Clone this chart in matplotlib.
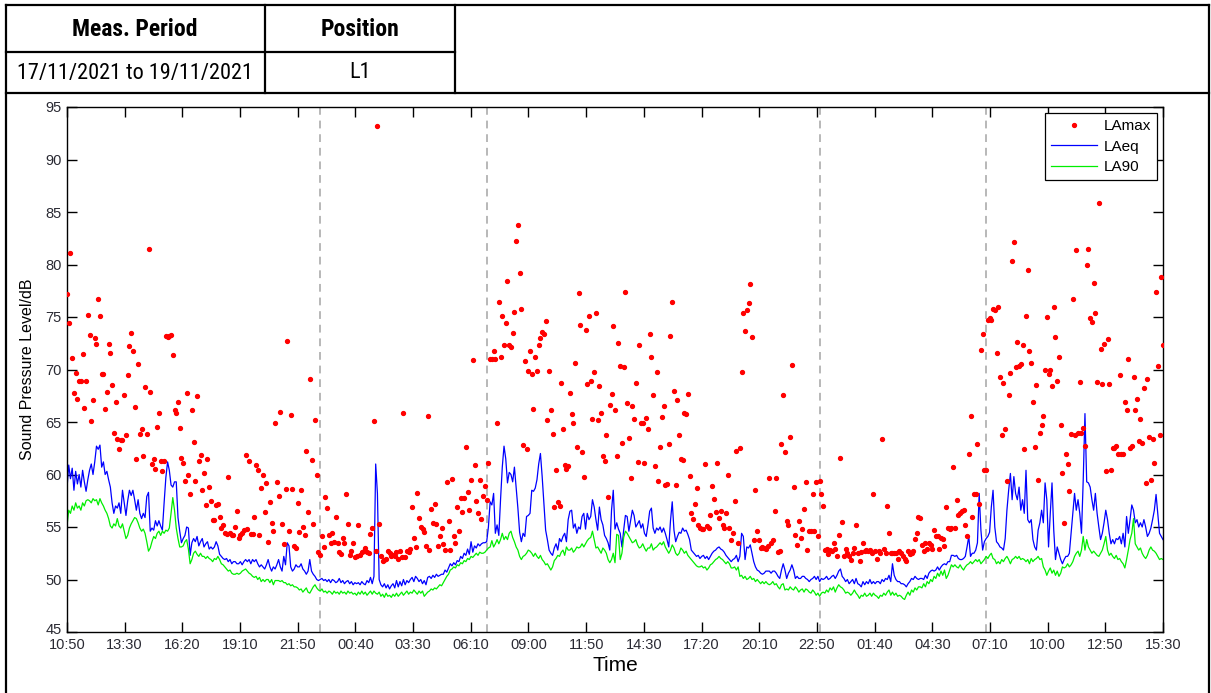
import numpy as np
import pandas as pd
import matplotlib
matplotlib.use('Agg')
import matplotlib.pyplot as plt
import matplotlib.transforms as mtransforms
from matplotlib.lines import Line2D

# 5-minute values, one row per hour starting 17/11/2021 10:50
start = pd.Timestamp('2021-11-17 10:50')
step_min = 5

lamax_rows = [
    [77.2, 74.4, 81.1, 71.1, 67.8, 69.7, 67.2, 68.9, 68.9, 71.5, 66.3, 68.9],
    [75.2, 73.3, 65.1, 67.1, 73.0, 72.4, 76.7, 75.1, 69.6, 69.6, 66.2, 67.9],
    [72.4, 71.6, 68.5, 64.0, 66.9, 63.4, 62.4, 63.3, 63.3, 67.6, 63.8, 69.5],
    [72.2, 73.5, 71.8, 66.4, 61.5, 70.5, 63.9, 64.3, 61.8, 68.3, 63.9, 81.5],
    [67.9, 61.0, 61.5, 60.5, 64.5, 65.9, 61.3, 60.3, 61.3, 73.2, 73.1, 73.2],
    [73.3, 71.4, 66.1, 65.9, 66.9, 64.4, 61.6, 61.1, 59.4, 67.8, 60.0, 58.1],
    [66.1, 63.1, 59.4, 67.5, 61.3, 61.9, 58.5, 60.1, 57.1, 61.5, 58.8, 57.5],
    [55.7, 55.7, 57.1, 57.2, 56.0, 54.9, 55.2, 54.4, 54.3, 59.8, 54.4, 54.2],
    [54.2, 55.0, 56.5, 54.0, 54.2, 54.4, 54.7, 61.9, 54.8, 61.3, 54.3, 54.3],
    [56.0, 60.9, 60.4, 54.2, 58.7, 60.0, 56.4, 59.2, 53.6, 57.4, 55.4, 54.6],
    [64.9, 59.3, 58.0, 66.0, 55.3, 53.4, 58.6, 72.7, 54.6, 65.7, 58.6, 53.2],
    [53.0, 57.3, 54.5, 58.5, 55.0, 54.2, 62.2, 56.4, 69.1, 61.4, 55.3, 65.2],
    [60.0, 52.6, 52.3, 54.1, 53.1, 57.9, 56.8, 54.2, 53.5, 54.4, 53.6, 56.0],
    [53.5, 52.6, 52.4, 54.0, 53.5, 58.1, 55.3, 52.3, 52.7, 53.5, 52.1, 52.2],
    [55.2, 52.3, 52.6, 52.7, 53.0, 52.6, 52.5, 54.3, 54.9, 65.1, 52.7, 93.2],
    [55.3, 52.2, 51.8, 51.9, 52.0, 52.7, 52.5, 52.2, 52.3, 52.2, 52.6, 52.0],
    [52.7, 52.1, 65.9, 52.1, 52.7, 52.6, 52.9, 56.9, 54.0, 53.1, 58.2, 55.9],
    [55.0, 54.8, 54.5, 53.2, 65.6, 52.8, 56.7, 55.4, 57.2, 55.3, 53.2, 54.1],
    [54.9, 53.4, 52.8, 59.3, 55.6, 52.8, 59.6, 54.1, 53.5, 56.9, 54.6, 57.8],
    [56.4, 57.8, 62.6, 58.3, 56.6, 59.5, 70.9, 60.9, 57.5, 56.3, 59.5, 55.8],
    [58.0, 58.9, 57.6, 61.1, 71.0, 71.0, 71.8, 71.0, 64.9, 76.4, 71.2, 75.1],
    [72.3, 74.4, 78.4, 72.3, 72.1, 73.5, 75.5, 82.2, 83.8, 79.2, 75.8, 62.8],
    [70.8, 62.4, 69.9, 71.8, 69.6, 66.2, 71.2, 69.9, 72.3, 73.0, 73.6, 73.4],
    [74.6, 65.2, 69.9, 66.1, 63.9, 56.9, 60.4, 57.4, 57.0, 68.7, 64.3, 60.9],
    [60.5, 60.8, 67.8, 65.8, 64.9, 70.6, 62.6, 77.3, 74.2, 62.1, 59.8, 73.8],
    [68.6, 75.1, 68.9, 65.3, 69.8, 75.4, 65.2, 68.4, 65.9, 61.8, 61.3, 63.8],
    [57.9, 66.6, 67.7, 74.1, 66.1, 61.8, 72.5, 70.3, 63.0, 70.2, 77.4, 66.8],
    [63.5, 59.7, 66.5, 65.3, 68.7, 61.2, 72.3, 64.9, 64.9, 61.1, 65.4, 64.3],
    [73.4, 71.2, 67.6, 60.8, 69.8, 59.4, 62.6, 65.5, 66.5, 59.0, 59.1, 62.9],
    [73.2, 76.4, 68.0, 59.0, 67.1, 63.8, 61.5, 61.4, 65.9, 65.8, 67.7, 59.9],
    [56.3, 55.8, 57.2, 58.7, 55.2, 54.9, 54.8, 54.8, 61.0, 55.1, 54.9, 56.1],
    [58.9, 57.7, 56.4, 61.1, 55.9, 56.5, 55.2, 54.9, 56.3, 60.0, 54.9, 53.8],
    [54.4, 57.5, 62.2, 53.5, 62.5, 69.8, 75.4, 73.7, 75.7, 76.3, 78.1, 73.1],
    [53.8, 58.5, 54.6, 53.8, 53.0, 53.1, 53.0, 52.9, 53.2, 59.7, 53.5, 53.8],
    [56.5, 59.7, 52.6, 52.7, 62.9, 67.6, 62.1, 55.6, 55.2, 63.6, 70.4, 58.8],
    [54.2, 53.3, 55.6, 54.0, 54.8, 56.7, 59.3, 52.8, 54.6, 54.6, 58.1, 54.6],
    [59.3, 54.1, 59.4, 58.1, 57.0, 52.8, 52.9, 52.4, 52.8, 52.7, 53.5, 52.9],
    [52.2, 54.2, 61.6, 55.5, 52.2, 52.9, 52.5, 52.2, 51.9, 52.5, 53.0, 55.2],
    [52.5, 51.8, 52.6, 53.5, 52.7, 52.8, 52.7, 52.8, 52.5, 58.1, 52.7, 52.0],
    [52.7, 52.5, 63.4, 52.9, 52.5, 57.0, 54.4, 52.5, 52.5, 52.5, 52.5, 52.0],
    [52.7, 52.5, 52.2, 52.0, 51.8, 52.7, 52.4, 52.5, 52.7, 53.9, 54.4, 56.0],
    [55.9, 53.3, 52.7, 53.5, 52.9, 53.5, 53.3, 52.9, 54.7, 54.1, 54.1, 52.9],
    [54.0, 53.9, 53.2, 56.9, 54.9, 54.8, 54.9, 60.7, 54.9, 57.6, 56.1, 56.3],
    [56.5, 56.6, 55.2, 54.1, 62.0, 65.6, 56.0, 58.1, 58.1, 62.9, 57.2, 71.9],
    [73.4, 60.4, 60.4, 74.7, 74.9, 74.7, 75.8, 75.7, 71.6, 76.0, 69.3, 63.8],
    [68.7, 64.3, 59.4, 67.6, 69.7, 80.3, 82.1, 70.2, 72.6, 70.3, 70.5, 72.3],
    [62.4, 75.1, 79.5, 71.8, 70.6, 66.9, 62.6, 68.5, 59.5, 64.0, 64.7, 65.6],
    [70.0, 75.0, 69.6, 70.0, 68.4, 76.0, 73.1, 68.9, 71.2, 64.7, 60.1, 55.4],
    [62.0, 61.0, 58.4, 63.9, 76.7, 63.8, 81.4, 64.0, 68.8, 64.0, 64.4, 62.7],
    [80.0, 81.5, 74.9, 74.5, 78.2, 75.4, 68.8, 85.9, 72.0, 68.6, 72.4, 60.3],
    [72.9, 68.6, 60.4, 62.5, 62.5, 62.7, 62.0, 69.5, 62.0, 62.0, 66.9, 66.1],
    [71.0, 62.5, 62.7, 69.3, 66.1, 67.2, 63.2, 65.3, 63.0, 68.2, 59.2, 69.1],
    [63.6, 59.5, 63.4, 61.1, 77.4, 70.3, 63.8, 78.8, 72.3],
]

laeq_rows = [
    [58.7, 60.9, 59.6, 60.6, 58.5, 60.3, 59.1, 60.0, 58.8, 60.4, 59.3, 58.4],
    [59.5, 60.4, 61.0, 60.0, 61.2, 62.7, 62.4, 62.8, 60.7, 61.2, 60.0, 60.3],
    [59.5, 58.8, 57.3, 56.3, 57.0, 56.8, 57.3, 56.3, 58.5, 57.3, 56.1, 57.5],
    [58.5, 58.0, 58.5, 57.6, 56.6, 57.6, 56.3, 55.8, 56.3, 55.9, 57.9, 58.3],
    [54.6, 54.9, 54.7, 55.6, 55.1, 55.6, 55.1, 54.7, 57.3, 59.7, 61.2, 60.4],
    [59.0, 58.8, 59.3, 59.3, 55.9, 54.6, 53.5, 53.9, 54.2, 55.0, 54.9, 52.3],
    [53.5, 53.9, 53.6, 54.1, 53.2, 53.6, 53.9, 53.1, 53.4, 53.6, 52.9, 53.1],
    [52.9, 53.1, 53.6, 53.2, 52.4, 52.2, 52.0, 51.9, 52.0, 51.7, 51.9, 51.5],
    [51.7, 51.7, 51.5, 51.5, 51.7, 51.4, 51.7, 51.9, 51.7, 51.9, 51.5, 51.9],
    [51.7, 51.9, 51.5, 51.2, 51.4, 51.2, 51.0, 51.4, 51.9, 51.2, 50.8, 51.2],
    [51.0, 51.4, 51.9, 51.2, 50.8, 52.2, 51.4, 53.5, 53.2, 51.2, 50.8, 51.0],
    [51.4, 51.2, 51.2, 51.5, 51.0, 50.8, 50.5, 50.8, 51.9, 50.8, 50.5, 50.3],
    [50.0, 49.9, 50.0, 50.1, 49.9, 50.0, 49.8, 50.0, 49.7, 50.0, 49.9, 49.7],
    [49.8, 50.1, 49.7, 49.9, 49.6, 49.8, 49.9, 49.6, 49.8, 49.5, 49.7, 49.6],
    [49.7, 49.5, 49.8, 49.6, 49.5, 49.9, 49.7, 50.2, 49.6, 50.3, 61.0, 58.2],
    [50.0, 49.5, 49.3, 49.6, 49.2, 49.5, 49.1, 49.4, 49.6, 49.2, 49.9, 49.3],
    [49.8, 49.4, 50.0, 49.5, 49.9, 49.7, 50.0, 50.2, 49.8, 50.3, 50.1, 49.8],
    [50.0, 49.6, 49.9, 49.5, 50.2, 50.3, 50.1, 50.4, 50.2, 50.5, 50.3, 50.4],
    [50.5, 50.5, 50.9, 50.7, 51.1, 51.5, 51.3, 51.6, 51.4, 51.8, 51.7, 52.2],
    [52.0, 52.5, 52.3, 52.9, 52.4, 53.6, 52.6, 53.2, 53.0, 53.4, 53.2, 53.4],
    [53.5, 53.5, 53.6, 55.0, 57.4, 57.1, 58.2, 54.4, 55.2, 54.2, 57.6, 60.7],
    [62.7, 61.5, 59.2, 60.2, 60.0, 59.3, 60.7, 58.7, 56.8, 54.5, 53.6, 54.4],
    [54.1, 56.0, 56.1, 56.3, 58.5, 58.4, 58.7, 59.5, 61.0, 62.0, 59.8, 57.3],
    [54.7, 53.8, 52.8, 52.5, 52.3, 53.0, 53.4, 52.8, 53.9, 53.6, 54.1, 54.4],
    [53.6, 55.7, 56.5, 56.6, 54.9, 55.3, 54.4, 55.0, 54.8, 56.0, 56.3, 54.8],
    [56.3, 55.7, 56.0, 57.6, 56.9, 55.7, 54.7, 56.9, 55.7, 55.2, 54.2, 53.9],
    [53.5, 52.8, 56.6, 58.5, 54.8, 55.4, 54.8, 54.4, 53.1, 54.7, 56.1, 56.0],
    [54.6, 55.6, 56.6, 56.1, 55.0, 55.3, 55.6, 54.9, 55.3, 54.4, 54.1, 55.2],
    [56.5, 56.8, 54.9, 54.4, 54.9, 54.7, 55.0, 54.5, 54.9, 54.4, 53.8, 53.1],
    [55.6, 57.4, 54.7, 53.6, 54.1, 54.5, 54.4, 54.9, 54.6, 54.7, 54.3, 53.8],
    [52.8, 52.6, 52.4, 52.2, 52.3, 52.0, 52.2, 52.3, 52.0, 52.2, 51.9, 52.2],
    [52.5, 52.7, 52.8, 53.0, 53.1, 52.9, 52.8, 52.6, 52.3, 52.1, 51.9, 51.7],
    [51.9, 52.0, 52.3, 51.7, 52.2, 54.4, 54.1, 51.9, 53.1, 53.0, 53.3, 52.5],
    [51.7, 51.2, 50.9, 50.8, 50.6, 50.5, 50.6, 50.8, 50.8, 50.8, 50.6, 50.8],
    [50.8, 50.6, 50.3, 50.1, 50.9, 51.5, 50.9, 50.1, 50.6, 50.9, 51.4, 50.9],
    [50.1, 50.3, 50.1, 50.1, 50.3, 50.3, 50.1, 50.0, 49.8, 50.0, 50.1, 50.3],
    [50.0, 50.3, 49.8, 50.1, 50.0, 50.1, 50.3, 50.0, 50.1, 50.3, 50.4, 50.1],
    [50.4, 50.8, 51.0, 50.3, 50.1, 49.8, 50.0, 49.6, 49.8, 50.0, 49.6, 50.1],
    [49.6, 49.5, 49.3, 49.8, 49.5, 49.8, 49.6, 50.0, 49.6, 49.8, 49.6, 49.8],
    [49.8, 49.6, 50.0, 49.8, 50.1, 50.0, 50.4, 49.8, 51.5, 50.4, 50.0, 49.8],
    [49.8, 49.6, 49.6, 49.5, 49.3, 49.6, 49.8, 50.1, 50.0, 50.3, 50.1, 50.0],
    [50.1, 50.1, 50.0, 50.4, 50.1, 50.6, 50.8, 50.9, 50.8, 50.9, 51.2, 50.9],
    [51.2, 51.4, 51.5, 51.4, 51.7, 51.7, 52.3, 52.3, 52.2, 52.3, 52.0, 51.9],
    [51.9, 52.0, 52.2, 53.1, 54.1, 52.2, 52.5, 52.5, 52.8, 53.5, 58.2, 54.7],
    [52.8, 53.6, 53.9, 54.1, 54.5, 56.9, 58.5, 55.0, 53.6, 53.4, 53.1, 53.0],
    [52.8, 53.9, 56.6, 58.5, 60.1, 57.6, 59.8, 58.2, 57.6, 58.8, 56.6, 57.6],
    [56.3, 60.4, 55.7, 55.4, 55.7, 53.8, 53.1, 52.8, 54.7, 55.4, 56.6, 55.4],
    [59.2, 57.6, 53.1, 56.3, 59.2, 54.7, 51.9, 53.1, 52.5, 51.9, 51.5, 51.9],
    [52.2, 52.2, 52.5, 54.4, 56.3, 58.2, 56.6, 57.6, 56.3, 54.4, 59.5, 65.8],
    [59.3, 59.2, 58.8, 57.6, 56.6, 58.2, 56.3, 55.0, 53.8, 54.4, 55.4, 56.6],
    [55.7, 54.4, 53.4, 53.8, 53.4, 53.9, 53.8, 54.1, 53.4, 54.4, 53.1, 56.0],
    [54.4, 55.7, 57.1, 56.6, 55.4, 55.7, 55.0, 55.4, 55.0, 55.7, 55.0, 54.1],
    [54.4, 54.9, 55.7, 56.6, 58.1, 56.3, 54.4, 54.1, 53.8],
]

la90_rows = [
    [55.1, 56.6, 56.3, 57.0, 56.6, 57.3, 56.8, 57.0, 56.6, 57.3, 57.0, 57.5],
    [57.6, 57.5, 57.3, 57.7, 57.5, 57.6, 57.1, 57.7, 57.3, 57.0, 56.6, 56.3],
    [55.8, 55.1, 54.9, 55.3, 55.1, 55.8, 55.1, 54.9, 55.3, 54.6, 53.9, 54.2],
    [54.9, 55.3, 55.6, 55.9, 55.8, 55.4, 54.9, 54.6, 54.8, 54.4, 53.6, 52.7],
    [53.0, 53.6, 54.1, 53.9, 54.4, 54.6, 54.2, 54.6, 54.4, 54.7, 54.6, 54.9],
    [56.3, 57.8, 56.6, 54.9, 53.9, 53.1, 53.1, 53.2, 53.6, 53.8, 52.9, 51.5],
    [51.9, 52.5, 52.7, 52.4, 52.2, 52.5, 52.2, 52.2, 52.0, 52.2, 52.0, 51.9],
    [51.7, 52.0, 51.9, 52.2, 51.9, 51.5, 51.4, 51.2, 51.0, 50.8, 50.9, 50.6],
    [50.5, 50.5, 50.6, 50.5, 50.6, 50.8, 50.9, 51.0, 50.8, 50.6, 50.5, 50.3],
    [50.2, 50.3, 50.0, 50.2, 49.8, 50.0, 49.8, 50.0, 50.0, 49.7, 50.0, 49.5],
    [49.9, 49.9, 49.9, 49.8, 49.9, 49.7, 49.7, 49.5, 49.6, 49.4, 49.5, 49.3],
    [49.3, 49.2, 49.0, 49.1, 48.8, 49.0, 49.2, 48.8, 48.7, 49.0, 49.3, 49.5],
    [49.2, 49.0, 48.9, 49.1, 48.8, 48.9, 48.7, 48.9, 48.8, 48.6, 48.9, 48.7],
    [48.8, 48.6, 48.9, 48.7, 48.8, 48.6, 48.9, 48.7, 48.8, 48.6, 48.7, 48.5],
    [48.8, 48.6, 48.9, 48.6, 48.8, 48.5, 48.7, 48.9, 48.6, 48.9, 48.7, 48.6],
    [48.8, 48.4, 48.6, 48.3, 48.7, 48.4, 48.5, 48.3, 48.6, 48.4, 48.7, 48.4],
    [48.6, 48.8, 48.5, 48.7, 48.9, 48.6, 48.8, 48.7, 49.0, 48.8, 48.6, 48.9],
    [48.7, 48.9, 48.4, 48.6, 48.8, 48.9, 49.1, 49.0, 49.2, 49.1, 49.3, 49.5],
    [49.4, 49.7, 50.0, 50.3, 50.5, 50.9, 51.0, 51.2, 51.1, 51.4, 51.3, 51.6],
    [51.5, 51.8, 51.7, 52.0, 51.9, 52.2, 52.1, 52.3, 52.5, 52.3, 52.6, 52.5],
    [52.5, 52.6, 52.8, 53.0, 53.1, 53.7, 53.1, 53.4, 53.8, 53.4, 53.8, 54.4],
    [53.8, 54.1, 53.8, 54.4, 54.6, 54.0, 53.6, 53.1, 52.8, 52.2, 51.9, 52.2],
    [52.3, 52.5, 52.8, 52.7, 52.5, 52.2, 52.5, 52.2, 52.0, 52.3, 51.9, 51.7],
    [51.4, 51.5, 51.2, 50.9, 51.2, 51.8, 52.0, 52.3, 52.2, 52.6, 52.8, 52.3],
    [53.1, 52.8, 52.8, 53.0, 52.6, 52.8, 53.1, 53.0, 53.1, 53.4, 53.1, 53.4],
    [53.7, 53.9, 54.0, 54.6, 53.8, 53.0, 53.1, 52.8, 52.5, 53.0, 52.8, 52.5],
    [51.9, 51.6, 51.9, 52.5, 51.6, 54.3, 54.2, 51.9, 52.5, 54.0, 54.6, 54.4],
    [54.1, 53.8, 53.5, 53.6, 53.8, 53.3, 53.0, 53.1, 53.4, 53.0, 52.7, 53.0],
    [53.0, 53.4, 52.8, 53.0, 53.1, 53.3, 53.5, 53.3, 53.6, 53.1, 52.8, 52.5],
    [52.8, 53.3, 53.0, 52.5, 52.3, 52.5, 53.0, 52.8, 52.5, 52.7, 52.3, 52.1],
    [51.9, 51.7, 51.5, 51.3, 51.2, 51.2, 51.3, 51.1, 51.2, 50.9, 51.1, 51.4],
    [51.5, 51.7, 51.9, 52.0, 52.2, 52.0, 51.9, 51.7, 51.5, 51.7, 51.5, 51.1],
    [51.1, 51.2, 50.9, 51.2, 50.3, 50.4, 50.1, 50.3, 50.0, 50.1, 50.3, 50.0],
    [50.1, 49.8, 50.0, 49.8, 49.6, 49.8, 49.6, 49.8, 49.6, 49.5, 49.6, 49.8],
    [49.5, 49.6, 49.3, 49.1, 49.5, 49.6, 49.0, 49.1, 49.0, 49.3, 49.1, 49.0],
    [49.3, 49.1, 48.8, 49.0, 49.1, 48.8, 49.1, 49.0, 48.8, 48.7, 49.0, 48.8],
    [48.5, 48.7, 48.4, 48.7, 48.8, 48.7, 49.0, 48.8, 49.2, 49.0, 49.3, 48.8],
    [49.2, 49.5, 49.3, 49.2, 49.0, 48.7, 48.8, 48.7, 48.5, 48.7, 49.0, 48.7],
    [48.5, 48.2, 48.5, 48.4, 48.7, 48.4, 48.5, 48.7, 48.4, 48.7, 48.5, 48.4],
    [48.2, 48.5, 48.4, 48.7, 48.5, 48.8, 49.0, 48.5, 48.8, 48.5, 48.7, 48.4],
    [48.5, 48.4, 48.2, 48.1, 48.5, 48.8, 48.5, 49.0, 48.8, 49.2, 49.0, 49.3],
    [49.3, 49.2, 49.6, 49.3, 49.8, 49.6, 50.0, 49.8, 50.3, 50.1, 50.6, 50.3],
    [50.8, 50.4, 50.9, 50.1, 50.4, 50.9, 51.4, 51.2, 51.4, 51.2, 51.1, 51.4],
    [51.1, 50.9, 51.2, 51.4, 51.5, 51.7, 51.5, 51.7, 51.9, 51.7, 51.9, 51.5],
    [51.7, 51.9, 52.2, 52.0, 52.3, 52.5, 52.0, 51.9, 51.5, 51.7, 51.5, 51.9],
    [51.7, 52.0, 52.2, 51.9, 51.5, 51.9, 52.0, 52.2, 52.0, 52.2, 51.9, 52.0],
    [51.9, 51.7, 51.9, 51.5, 52.0, 51.7, 51.9, 52.0, 52.2, 51.9, 52.0, 51.2],
    [50.9, 50.4, 50.8, 51.1, 50.6, 50.9, 50.4, 50.8, 50.3, 50.6, 51.2, 51.1],
    [51.2, 51.5, 51.2, 51.4, 51.7, 52.2, 52.5, 52.7, 52.2, 52.8, 54.1, 52.8],
    [53.8, 53.1, 52.8, 52.5, 52.7, 52.5, 52.3, 52.2, 52.5, 52.8, 53.4, 54.1],
    [52.8, 52.3, 52.5, 52.2, 52.0, 52.3, 51.9, 52.0, 51.7, 51.5, 51.1, 51.9],
    [52.8, 53.8, 54.4, 55.8, 53.4, 53.1, 52.8, 53.0, 52.5, 52.2, 52.0, 52.3],
    [52.8, 53.1, 52.8, 52.7, 52.5, 52.2, 51.9, 52.0, 51.9],
]

tick_labels = ['10:50', '13:30', '16:20', '19:10', '21:50', '00:40', '03:30',
               '06:10', '09:00', '11:50', '14:30', '17:20', '20:10', '22:50',
               '01:40', '04:30', '07:10', '10:00', '12:50', '15:30']
night_bounds = ['2021-11-17 23:00', '2021-11-18 07:00',
                '2021-11-18 23:00', '2021-11-19 07:00']

lamax = np.concatenate(lamax_rows)
laeq = np.concatenate(laeq_rows)
la90 = np.concatenate(la90_rows)
t = np.arange(len(laeq)) * step_min   # minutes since start

W, H = 1211, 693
fig = plt.figure(figsize=(W / 100, H / 100), dpi=100)
plt.rcParams['font.family'] = ['Liberation Sans', 'DejaVu Sans']
narrow = ['Roboto Condensed', 'Liberation Sans', 'DejaVu Sans']

# header table
def px_line(x0, y0, x1, y1):
    fig.add_artist(Line2D([x0 / W, x1 / W], [1 - y0 / H, 1 - y1 / H],
                          color='black', lw=1.6))

px_line(6, 5, 1209, 5)
px_line(6, 52, 455, 52)
px_line(6, 93, 1209, 93)
px_line(6, 5, 6, 693)
px_line(1209, 5, 1209, 693)
px_line(265, 5, 265, 93)
px_line(455, 5, 455, 93)

fig.text(135 / W, 1 - 29 / H, 'Meas. Period', ha='center', va='center',
         fontsize=17, fontweight='bold', family=narrow)
fig.text(360 / W, 1 - 29 / H, 'Position', ha='center', va='center',
         fontsize=17, fontweight='bold', family=narrow)
fig.text(135 / W, 1 - 73 / H, '17/11/2021 to 19/11/2021', ha='center',
         va='center', fontsize=16, family=narrow)
fig.text(360 / W, 1 - 73 / H, 'L1', ha='center', va='center',
         fontsize=16, family=narrow)

# chart
ax = fig.add_axes([67 / W, 1 - 632 / H, (1163 - 67) / W, (632 - 107) / H])
for b in night_bounds:
    m = (pd.Timestamp(b) - start) / pd.Timedelta(minutes=1)
    ax.axvline(m, color='#b8b8b8', ls=(0, (4, 3)), lw=1.4, zorder=1)

ax.plot(t, lamax, ls='none', marker='o', ms=2.8, color='red', label='LAmax', zorder=3)
ax.plot(t, laeq, color='blue', lw=0.9, label='LAeq', zorder=2)
ax.plot(t, la90, color='#00ee00', lw=0.9, label='LA90', zorder=2)

ax.set_xlim(0, t[-1])
ax.set_ylim(45, 95)
ax.set_xticks(np.linspace(0, t[-1], len(tick_labels)))
ax.set_xticklabels(tick_labels)
ax.set_yticks(np.arange(45, 96, 5))
ax.tick_params(direction='in', top=True, right=True, length=7, width=1,
               labelsize=10.5, labelcolor='#2a2a33')
ax.tick_params(axis='x', pad=4)
ax.tick_params(axis='y', pad=4)
# lowest y label sits a little above the corner, as in the original
lab45 = ax.get_yticklabels()[0]
lab45.set_transform(lab45.get_transform() +
                    mtransforms.ScaledTranslation(0, 4 / 100, fig.dpi_scale_trans))
for s in ax.spines.values():
    s.set_linewidth(1.0)

ax.set_xlabel('Time', fontsize=15, labelpad=3)
ax.set_ylabel('Sound Pressure Level/dB', fontsize=11.5, labelpad=7)

leg = ax.legend(loc='upper right', fancybox=False, edgecolor='black',
                framealpha=1, fontsize=11, handlelength=3.0,
                borderaxespad=0.4, labelspacing=0.42, borderpad=0.4,
                handletextpad=0.4)
leg.get_frame().set_linewidth(0.9)

fig.savefig('out.png', dpi=100)
